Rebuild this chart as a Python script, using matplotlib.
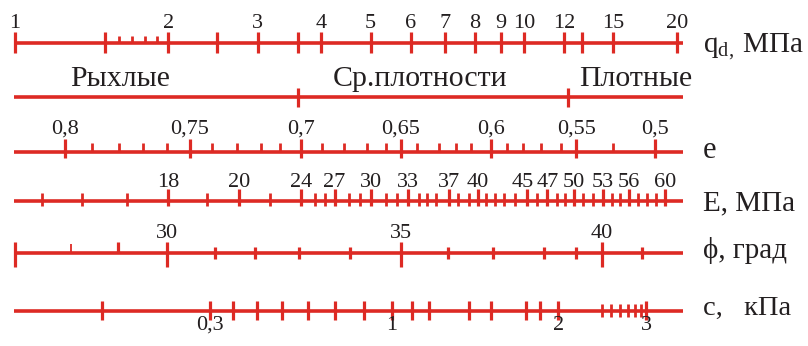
import matplotlib

matplotlib.use("Agg")

import matplotlib.pyplot as plt
import numpy as np

# Номограмма: q_d (МПа) на логарифмической шкале, остальные шкалы
# заданы положением в единицах lg(q_d)

qd_labeled = [1, 2, 3, 4, 5, 6, 7, 8, 9, 10, 12, 15, 20]
qd_unlabeled = [1.5, 2.5, 3.6, 13]
qd_small = [1.6, 1.7, 1.8, 1.9]

density_names = ["Рыхлые", "Ср.плотности", "Плотные"]
density_bounds_qd = [3.6, 12.2]

e_labels = ["0,8", "0,75", "0,7", "0,65", "0,6", "0,55", "0,5"]
e_label_lg = [0.099, 0.343, 0.563, 0.758, 0.935, 1.103, 1.258]
e_minor_lg = [0.152, 0.205, 0.251, 0.299, 0.388, 0.436, 0.483, 0.521,
              0.604, 0.647, 0.691, 0.729, 0.791, 0.834, 0.867, 0.896,
              0.966, 0.998, 1.033, 1.074, 1.175]

E_labels = ["18", "20", "24", "27", "30", "33", "37", "40", "45", "47",
            "50", "53", "56", "60"]
E_label_lg = [0.301, 0.441, 0.563, 0.628, 0.700, 0.773, 0.852, 0.909,
              1.006, 1.045, 1.099, 1.156, 1.207, 1.277]
E_minor_lg = [0.054, 0.132, 0.221, 0.378, 0.501, 0.590, 0.609, 0.657,
              0.678, 0.729, 0.751, 0.793, 0.809, 0.827, 0.871, 0.893,
              0.926, 0.943, 0.962, 0.983, 1.025, 1.065, 1.081, 1.117,
              1.135, 1.173, 1.189, 1.225, 1.243, 1.260]

phi_labels = ["30", "35", "40"]
phi_label_lg = [0.298, 0.759, 1.154]
phi_start_lg = [0.0]
phi_stub_lg = [0.111, 0.203]
phi_minor_lg = [0.393, 0.472, 0.559, 0.658, 0.850, 0.940, 1.040, 1.103,
                1.233]

c_labels = ["0,3", "1", "2", "3"]
c_label_lg = [0.383, 0.740, 1.068, 1.241]
c_mid_lg = [0.170, 0.429, 0.476, 0.525, 0.576, 0.629, 0.685, 0.780, 0.814,
            0.893, 0.935, 1.004, 1.032]
c_small_lg = [1.153, 1.171, 1.189, 1.205, 1.218, 1.230]

RED = "#DD2A24"
INK = "#231F20"
LINE_START = -0.002
LINE_END = 1.313
NAME_X = 1.352

plt.rcParams["font.family"] = ["Liberation Serif", "DejaVu Serif"]
plt.rcParams["mathtext.fontset"] = "custom"
plt.rcParams["mathtext.rm"] = "Liberation Serif"

fig = plt.figure(figsize=(8.08, 3.46), dpi=100)
ax = fig.add_axes([0, 0, 1, 1])
ax.set_xlim(-0.0295, 1.5585)
ax.set_ylim(346, 0)
ax.axis("off")


def draw_line(y):
    ax.plot([LINE_START, LINE_END], [y, y], color=RED, lw=2.6,
            solid_capstyle="butt")


def draw_ticks(xs, y, up, down, lw=2.3):
    ax.vlines(xs, y - up, y + down, color=RED, lw=lw)


def draw_labels(xs, labels, y, size=16, nudge=None):
    # nudge - небольшой сдвиг подписи, чтобы соседние не налезали
    nudge = nudge or {}
    for x, s in zip(xs, labels):
        ax.text(x + nudge.get(s, 0), y, s, ha="center", va="baseline",
                fontsize=size, color=INK)


def draw_name(y, text, size=21):
    ax.text(NAME_X, y, text, ha="left", va="baseline", fontsize=size,
            color=INK)


# q_d
y = 42.7
draw_line(y)
draw_ticks(np.log10(qd_labeled), y, 10.5, 10.5)
draw_ticks(np.log10(qd_unlabeled), y, 10.5, 10.5)
draw_ticks(np.log10(qd_small), y, 7, 0, lw=2.0)
draw_labels(np.log10(qd_labeled), [str(v) for v in qd_labeled], 28.3)
draw_name(53, r"q$_{\mathrm{d,}}\,$МПа")

# плотность
y = 97.3
draw_line(y)
draw_ticks(np.log10(density_bounds_qd), y, 9.5, 9.5)
for x, s in zip([0.206, 0.797, 1.2195], density_names):
    ax.text(x, 86, s, ha="center", va="baseline", fontsize=21.5, color=INK)

# коэффициент пористости e
y = 151.7
draw_line(y)
draw_ticks(e_label_lg, y, 12.3, 6.7)
draw_ticks(e_minor_lg, y, 8.3, 0, lw=2.0)
draw_labels(e_label_lg, e_labels, 133.3)
draw_name(158.3, "e", size=22)

# модуль деформации E
y = 201
draw_line(y)
draw_ticks(E_label_lg, y, 12, 4.7)
draw_ticks(E_minor_lg, y, 7.7, 4.7, lw=2.0)
draw_labels(E_label_lg, E_labels, 186.7, nudge={"45": -0.009, "47": 0.002})
draw_name(210, "E, МПа")

# угол внутреннего трения
y = 252.7
draw_line(y)
draw_ticks(phi_start_lg + phi_label_lg, y, 11, 14)
draw_ticks(phi_stub_lg[1:], y, 11, 0)
draw_ticks(phi_stub_lg[:1], y, 9, 0, lw=1.3)
draw_ticks(phi_minor_lg, y, 6, 6.7)
draw_labels(phi_label_lg, phi_labels, 237.5)
draw_name(258.3, "ϕ, град")

# удельное сцепление c
y = 310.7
draw_line(y)
draw_ticks(c_label_lg, y, 9.7, 9.3)
draw_ticks(c_mid_lg, y, 9.7, 9.3)
draw_ticks(c_small_lg, y, 6.7, 6.7, lw=2.0)
draw_labels(c_label_lg, c_labels, 330)
draw_name(315, "c,   кПа", size=20.5)

fig.savefig("out.png", dpi=100)
